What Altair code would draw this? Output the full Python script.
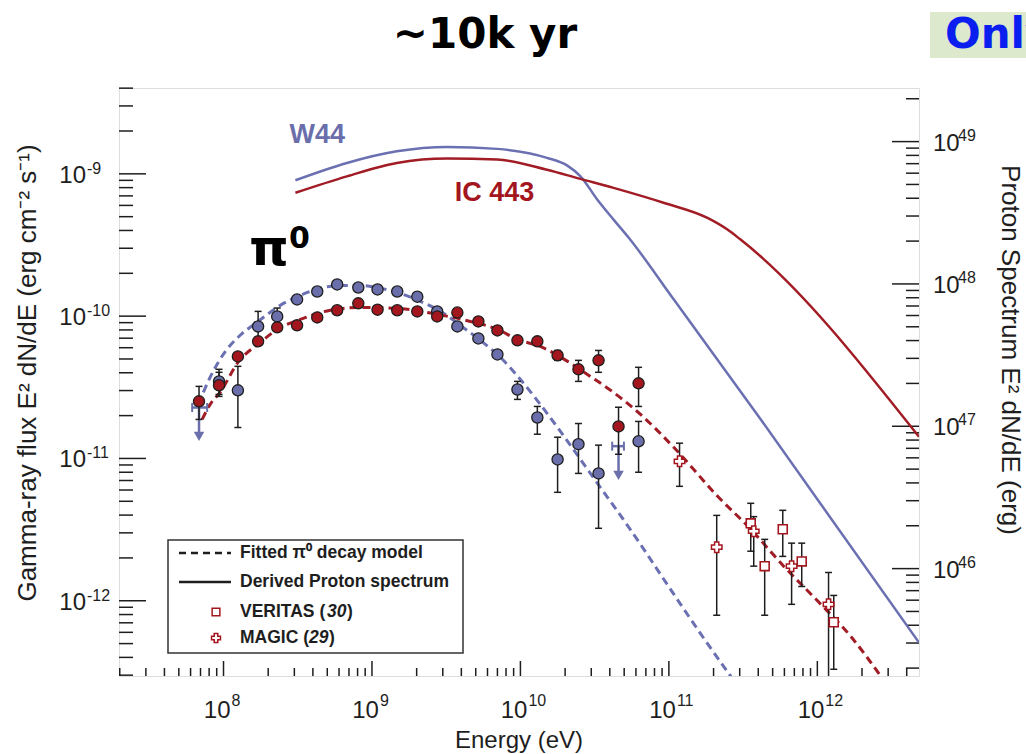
import altair as alt
import pandas as pd

# ---------------- data ----------------
# Fermi-LAT energy bins (eV), shared by both remnants
E_FERMI = [6.84e7, 9.33e7, 1.25e8, 1.71e8, 2.30e8, 3.13e8, 4.28e8, 5.83e8,
           8.09e8, 1.09e9, 1.48e9, 2.02e9, 2.75e9, 3.76e9, 5.21e9, 7.00e9,
           9.55e9, 1.30e10, 1.78e10, 2.46e10, 3.36e10, 4.58e10, 6.25e10]

# W44 gamma-ray flux E^2 dN/dE (erg cm^-2 s^-1); None = upper limit bin
W44_FLUX = [None, 3.48e-11, 3.01e-11, 8.47e-11, 9.96e-11, 1.31e-10, 1.49e-10, 1.67e-10,
            1.59e-10, 1.54e-10, 1.49e-10, 1.37e-10, 1.08e-10, 8.47e-11, 6.97e-11, 5.38e-11,
            3.05e-11, 1.94e-11, 9.84e-12, 1.26e-11, 7.85e-12, None, 1.32e-11]
W44_HI = [None, 4.23e-11, 4.44e-11, 1.08e-10, 1.14e-10, None, None, None,
          None, None, None, None, None, None, None, None,
          3.48e-11, 2.32e-11, 1.41e-11, 1.76e-11, 1.24e-11, None, 1.82e-11]
W44_LO = [None, 2.73e-11, 1.65e-11, 6.85e-11, 8.90e-11, None, None, None,
          None, None, None, None, None, None, None, None,
          2.60e-11, 1.48e-11, 5.78e-12, 7.85e-12, 3.23e-12, None, 8.00e-12]

# W44 upper limits
W44_UL_E = [6.84e7, 4.58e10]
W44_UL_ELO = [6.15e7, 4.15e10]
W44_UL_EHI = [7.76e7, 4.98e10]
W44_UL_F = [2.28e-11, 1.22e-11]
W44_UL_ARROW = [1.43e-11, 7.60e-12]

# IC 443 gamma-ray flux
IC443_FLUX = [2.52e-11, 3.27e-11, 5.21e-11, 6.65e-11, 8.34e-11, 8.62e-11, 9.80e-11, 1.10e-10,
              1.23e-10, 1.11e-10, 1.10e-10, 1.08e-10, 9.96e-11, 1.06e-10, 9.18e-11, 7.94e-11,
              6.76e-11, 6.65e-11, 5.30e-11, 4.23e-11, 4.89e-11, 1.68e-11, 3.37e-11]
IC443_HI = [3.21e-11, 4.03e-11, None, None, None, None, None, None,
            None, None, None, None, None, None, None, None,
            None, None, 5.74e-11, 4.89e-11, 5.74e-11, 2.29e-11, 4.37e-11]
IC443_LO = [1.88e-11, 2.82e-11, None, None, None, None, None, None,
            None, None, None, None, None, None, None, None,
            None, None, 4.89e-11, 3.48e-11, 4.03e-11, 1.07e-11, 2.32e-11]

# TeV measurements of IC 443
MAGIC_E = [1.18e11, 2.10e11, 3.73e11, 6.71e11, 1.19e12]
MAGIC_F = [9.55e-12, 2.38e-12, 3.08e-12, 1.75e-12, 9.44e-13]
MAGIC_HI = [1.28e-11, 3.98e-12, 3.90e-12, 2.54e-12, 1.58e-12]
MAGIC_LO = [6.37e-12, 7.91e-13, 1.75e-12, 9.44e-13, 2.60e-13]

VERITAS_E = [3.56e11, 4.42e11, 5.85e11, 7.85e11, 1.29e12]
VERITAS_F = [3.50e-12, 1.75e-12, 3.18e-12, 1.89e-12, 7.06e-13]
VERITAS_HI = [4.84e-12, 2.70e-12, 4.32e-12, 2.54e-12, 1.09e-12]
VERITAS_LO = [2.23e-12, 7.91e-13, 2.05e-12, 1.26e-12, 3.30e-13]

# fitted pi0-decay models
W44_FIT_E = [7.31e7, 8.13e7, 1.03e8, 1.29e8, 1.71e8, 2.41e8, 3.29e8, 4.49e8, 6.12e8, 8.36e8,
             1.14e9, 1.56e9, 2.12e9, 2.90e9, 3.94e9, 5.38e9, 7.35e9, 1.00e10, 1.36e10, 1.86e10,
             2.54e10, 3.46e10, 4.72e10, 6.44e10, 8.79e10, 1.20e11, 1.63e11, 2.64e11]
W44_FIT_F = [2.91e-11, 3.72e-11, 5.66e-11, 7.31e-11, 9.18e-11, 1.19e-10, 1.40e-10, 1.57e-10, 1.64e-10, 1.64e-10,
             1.57e-10, 1.44e-10, 1.27e-10, 1.08e-10, 8.61e-11, 6.75e-11, 5.12e-11, 3.59e-11, 2.40e-11, 1.55e-11,
             9.84e-12, 6.25e-12, 3.98e-12, 2.49e-12, 1.53e-12, 9.44e-13, 5.90e-13, 2.90e-13]
IC443_FIT_E = [7.18e7, 8.13e7, 9.48e7, 1.25e8, 1.77e8, 2.30e8, 3.29e8, 5.24e8, 8.34e8, 1.55e9,
               2.75e9, 4.60e9, 7.00e9, 9.55e9, 1.36e10, 2.08e10, 2.96e10, 4.24e10, 6.44e10, 1.11e11,
               2.13e11, 3.56e11, 5.93e11, 1.01e12, 1.68e12, 2.68e12]
IC443_FIT_F = [1.88e-11, 2.40e-11, 2.91e-11, 4.73e-11, 6.53e-11, 8.07e-11, 9.48e-11, 1.10e-10, 1.15e-10, 1.13e-10,
               1.03e-10, 9.18e-11, 8.07e-11, 6.86e-11, 6.12e-11, 4.81e-11, 3.77e-11, 2.91e-11, 2.04e-11, 1.16e-11,
               5.42e-12, 3.18e-12, 1.75e-12, 9.91e-13, 5.62e-13, 2.94e-13]

# derived proton spectra E^2 dN/dE (erg), right axis
W44_P_E = [3.05e8, 6.78e8, 1.47e9, 3.21e9, 6.97e9, 1.51e10, 2.07e10, 2.54e10, 3.29e10, 4.24e10,
           5.35e10, 1.08e11, 4.15e11, 4.84e12]
W44_P = [5.35e48, 7.08e48, 8.55e48, 9.18e48, 8.89e48, 7.69e48, 6.78e48, 5.70e48, 3.92e48, 2.83e48,
         2.12e48, 7.77e47, 1.12e47, 3.02e45]
IC443_P_E = [3.05e8, 6.78e8, 1.47e9, 3.21e9, 6.97e9, 1.51e10, 2.54e10, 4.24e10, 9.20e10, 1.82e11,
             2.48e11, 3.04e11, 4.84e12]
IC443_P = [4.37e48, 5.70e48, 7.08e48, 7.60e48, 7.48e48, 6.35e48, 5.47e48, 4.73e48, 3.72e48, 2.91e48,
           2.41e48, 2.05e48, 8.43e46]

# axis ranges and tick labels
X_DOMAIN = [1.977e7, 4.84e12]
YL_DOMAIN = [2.96e-13, 4.01e-9]
YR_DOMAIN = [1.76e45, 2.38e49]
X_MAJOR = [1e8, 1e9, 1e10, 1e11, 1e12]
X_EXP = ["8", "9", "10", "11", "12"]
YL_MAJOR = [1e-9, 1e-10, 1e-11, 1e-12]
YL_EXP = ["-9", "-10", "-11", "-12"]
YR_MAJOR = [1e49, 1e48, 1e47, 1e46]
YR_EXP = ["49", "48", "47", "46"]

# ---------------- styling ----------------
W, H = 800, 588
INK = "#1e1e1e"
BLUE = "#6a6fab"
BLUE_LINE = "#6b70b2"
RED = "#a3161e"
RED_LINE = "#a11c25"
SANS = "Liberation Sans, Arial, Helvetica, sans-serif"
BOLD_SANS = "DejaVu Sans, Verdana, sans-serif"


def minor_ticks(lo, hi):
    out = []
    for d in range(-14, 51):
        for k in range(2, 10):
            v = k * 10.0 ** d
            if lo <= v <= hi:
                out.append(v)
    return out


def xs():
    return alt.Scale(type="log", domain=X_DOMAIN, nice=False)


def yls():
    return alt.Scale(type="log", domain=YL_DOMAIN, nice=False)


def yrs():
    return alt.Scale(type="log", domain=YR_DOMAIN, nice=False)


def X(f):
    return alt.X(f"{f}:Q", scale=xs(), axis=None)


def YL(f):
    return alt.Y(f"{f}:Q", scale=yls(), axis=None)


def YR(f):
    return alt.Y(f"{f}:Q", scale=yrs(), axis=None)


one = pd.DataFrame({"k": [0]})


def note(text, x, y, size, color=INK, weight="normal", align="left",
         baseline="middle", font=SANS, angle=None, style=None):
    kw = dict(text=text, fontSize=size, color=color, fontWeight=weight,
              align=align, baseline=baseline, font=font)
    if angle is not None:
        kw["angle"] = angle
    if style is not None:
        kw["fontStyle"] = style
    return alt.Chart(one).mark_text(**kw).encode(x=alt.value(x), y=alt.value(y))


layers = []

# ---- axis ticks (inward) ----
layers.append(alt.Chart(pd.DataFrame({"v": YL_MAJOR})).mark_rule(color=INK, strokeWidth=1.5)
              .encode(y=YL("v"), x=alt.value(0), x2=alt.value(27)))
layers.append(alt.Chart(pd.DataFrame({"v": minor_ticks(*YL_DOMAIN)})).mark_rule(color=INK, strokeWidth=1.5)
              .encode(y=YL("v"), x=alt.value(0), x2=alt.value(14)))
layers.append(alt.Chart(pd.DataFrame({"v": YR_MAJOR})).mark_rule(color=INK, strokeWidth=1.5)
              .encode(y=YR("v"), x=alt.value(W), x2=alt.value(W - 27)))
layers.append(alt.Chart(pd.DataFrame({"v": minor_ticks(*YR_DOMAIN)})).mark_rule(color=INK, strokeWidth=1.5)
              .encode(y=YR("v"), x=alt.value(W), x2=alt.value(W - 13)))
layers.append(alt.Chart(pd.DataFrame({"v": X_MAJOR})).mark_rule(color=INK, strokeWidth=1.5)
              .encode(x=X("v"), y=alt.value(H), y2=alt.value(H - 15)))
layers.append(alt.Chart(pd.DataFrame({"v": minor_ticks(*X_DOMAIN)})).mark_rule(color=INK, strokeWidth=1.5)
              .encode(x=X("v"), y=alt.value(H), y2=alt.value(H - 8)))

# ---- tick labels: "10" with a raised exponent ----
xl = pd.DataFrame({"v": X_MAJOR, "b": ["10"] * 5, "e": X_EXP})
layers.append(alt.Chart(xl).mark_text(font=SANS, fontSize=24, color=INK, align="right", baseline="middle", dx=7)
              .encode(x=X("v"), y=alt.value(H + 35), text="b:N"))
layers.append(alt.Chart(xl).mark_text(font=SANS, fontSize=16, color=INK, align="left", baseline="middle", dx=8)
              .encode(x=X("v"), y=alt.value(H + 25), text="e:N"))

yll = pd.DataFrame({"v": YL_MAJOR, "b": ["10"] * 4, "e": YL_EXP})
layers.append(alt.Chart(yll).mark_text(font=SANS, fontSize=24, color=INK, align="right", baseline="middle", dy=2)
              .encode(y=YL("v"), x=alt.value(-33), text="b:N"))
layers.append(alt.Chart(yll).mark_text(font=SANS, fontSize=16, color=INK, align="left", baseline="middle", dy=-5)
              .encode(y=YL("v"), x=alt.value(-32), text="e:N"))

yrl = pd.DataFrame({"v": YR_MAJOR, "b": ["10"] * 4, "e": YR_EXP})
layers.append(alt.Chart(yrl).mark_text(font=SANS, fontSize=24, color=INK, align="left", baseline="middle", dy=2)
              .encode(y=YR("v"), x=alt.value(W + 14), text="b:N"))
layers.append(alt.Chart(yrl).mark_text(font=SANS, fontSize=16, color=INK, align="left", baseline="middle", dy=-6)
              .encode(y=YR("v"), x=alt.value(W + 39), text="e:N"))

# ---- axis titles ----
layers.append(note("Energy (eV)", W / 2, H + 65, 24, align="center"))
layers.append(note("Gamma-ray flux E² dN/dE (erg cm⁻² s⁻¹)", -91, 285, 26, align="center", angle=270))
layers.append(note("Proton Spectrum E² dN/dE (erg)", W + 91, 262, 26, align="center", angle=90))

# ---- fitted pi0 decay models (dashed) ----
layers.append(alt.Chart(pd.DataFrame({"e": W44_FIT_E, "f": W44_FIT_F}))
              .mark_line(color=BLUE_LINE, strokeWidth=3, strokeDash=[8, 5], clip=True, interpolate="monotone")
              .encode(x=X("e"), y=YL("f")))
layers.append(alt.Chart(pd.DataFrame({"e": IC443_FIT_E, "f": IC443_FIT_F}))
              .mark_line(color=RED_LINE, strokeWidth=3, strokeDash=[8, 5], clip=True, interpolate="monotone")
              .encode(x=X("e"), y=YL("f")))

# ---- derived proton spectra (solid, right axis) ----
layers.append(alt.Chart(pd.DataFrame({"e": W44_P_E, "p": W44_P}))
              .mark_line(color=BLUE_LINE, strokeWidth=2.5, clip=True, interpolate="monotone")
              .encode(x=X("e"), y=YR("p")))
layers.append(alt.Chart(pd.DataFrame({"e": IC443_P_E, "p": IC443_P}))
              .mark_line(color=RED_LINE, strokeWidth=2.5, clip=True, interpolate="monotone")
              .encode(x=X("e"), y=YR("p")))


def error_bars(e, hi, lo):
    df = pd.DataFrame({"e": e, "hi": hi, "lo": lo}).dropna()
    bar = alt.Chart(df).mark_rule(color=INK, strokeWidth=1.5, clip=True).encode(
        x=X("e"), y=YL("lo"), y2="hi:Q")
    cap_hi = alt.Chart(df).mark_tick(color=INK, orient="horizontal", size=7, thickness=1.5,
                                     opacity=1, clip=True).encode(x=X("e"), y=YL("hi"))
    cap_lo = alt.Chart(df).mark_tick(color=INK, orient="horizontal", size=7, thickness=1.5,
                                     opacity=1, clip=True).encode(x=X("e"), y=YL("lo"))
    return [bar, cap_hi, cap_lo]


# ---- W44 upper limits ----
ul = pd.DataFrame({"e": W44_UL_E, "elo": W44_UL_ELO, "ehi": W44_UL_EHI,
                   "f": W44_UL_F, "a": W44_UL_ARROW})
layers.append(alt.Chart(ul).mark_rule(color=BLUE, strokeWidth=2.5).encode(
    x=X("elo"), x2="ehi:Q", y=YL("f")))
layers.append(alt.Chart(ul).mark_tick(color=BLUE, orient="vertical", size=9, thickness=2, opacity=1)
              .encode(x=X("elo"), y=YL("f")))
layers.append(alt.Chart(ul).mark_tick(color=BLUE, orient="vertical", size=9, thickness=2, opacity=1)
              .encode(x=X("ehi"), y=YL("f")))
layers.append(alt.Chart(ul).mark_rule(color=BLUE, strokeWidth=2.5).encode(
    x=X("e"), y=YL("f"), y2="a:Q"))
layers.append(alt.Chart(ul).mark_point(shape="triangle-down", filled=True, color=BLUE, size=110, opacity=1)
              .encode(x=X("e"), y=YL("a")))

# ---- error bars ----
layers += error_bars(E_FERMI, W44_HI, W44_LO)
layers += error_bars(E_FERMI, IC443_HI, IC443_LO)
layers += error_bars(MAGIC_E, MAGIC_HI, MAGIC_LO)
layers += error_bars(VERITAS_E, VERITAS_HI, VERITAS_LO)

# ---- Fermi points ----
w44 = pd.DataFrame({"e": E_FERMI, "f": W44_FLUX}).dropna()
ic = pd.DataFrame({"e": E_FERMI, "f": IC443_FLUX}).dropna()
layers.append(alt.Chart(w44).mark_point(shape="circle", filled=True, fill=BLUE, stroke=INK, strokeWidth=1.3,
                                        size=125, opacity=1).encode(x=X("e"), y=YL("f")))
layers.append(alt.Chart(ic).mark_point(shape="circle", filled=True, fill=RED, stroke=INK, strokeWidth=1.3,
                                       size=125, opacity=1).encode(x=X("e"), y=YL("f")))

# ---- TeV points ----
layers.append(alt.Chart(pd.DataFrame({"e": VERITAS_E, "f": VERITAS_F}))
              .mark_point(shape="square", filled=True, fill="white", stroke=RED, strokeWidth=1.6,
                          size=80, opacity=1).encode(x=X("e"), y=YL("f")))
layers.append(alt.Chart(pd.DataFrame({"e": MAGIC_E, "f": MAGIC_F}))
              .mark_point(shape="cross", filled=True, fill="white", stroke=RED, strokeWidth=1.5,
                          size=110, opacity=1).encode(x=X("e"), y=YL("f")))

# ---- curve labels ----
layers.append(alt.Chart(pd.DataFrame({"e": [4.28e8], "f": [1.86e-9]}))
              .mark_text(text="W44", font=SANS, fontSize=27, fontWeight="bold", color=BLUE,
                         align="center", baseline="middle").encode(x=X("e"), y=YL("f")))
layers.append(alt.Chart(pd.DataFrame({"e": [6.68e9], "f": [7.39e-10]}))
              .mark_text(text="IC 443", font=SANS, fontSize=27, fontWeight="bold", color=RED,
                         align="center", baseline="middle").encode(x=X("e"), y=YL("f")))

# ---- legend ----
layers.append(alt.Chart(one).mark_rect(fill="white", stroke="#333333", strokeWidth=1.5)
              .encode(x=alt.value(49), x2=alt.value(344), y=alt.value(452), y2=alt.value(565)))
layers.append(alt.Chart(one).mark_rule(color=INK, strokeWidth=2.5, strokeDash=[7, 5])
              .encode(x=alt.value(60), x2=alt.value(112), y=alt.value(465)))
layers.append(alt.Chart(one).mark_rule(color=INK, strokeWidth=2.5)
              .encode(x=alt.value(60), x2=alt.value(112), y=alt.value(494)))
layers.append(alt.Chart(one).mark_point(shape="square", filled=True, fill="white", stroke=RED,
                                        strokeWidth=1.5, size=60, opacity=1)
              .encode(x=alt.value(97), y=alt.value(524)))
layers.append(alt.Chart(one).mark_point(shape="cross", filled=True, fill="white", stroke=RED,
                                        strokeWidth=1.5, size=80, opacity=1)
              .encode(x=alt.value(97), y=alt.value(550)))
layers.append(note("Fitted π⁰ decay model", 121, 465, 17.5, weight="bold"))
layers.append(note("Derived Proton spectrum", 121, 494, 17.5, weight="bold"))
layers.append(note("VERITAS (", 121, 524, 17.5, weight="bold"))
layers.append(note("30", 208, 524, 17.5, weight="bold", style="italic"))
layers.append(note(")", 228, 524, 17.5, weight="bold"))
layers.append(note("MAGIC (", 121, 550, 17.5, weight="bold"))
layers.append(note("29", 190, 550, 17.5, weight="bold", style="italic"))
layers.append(note(")", 210, 550, 17.5, weight="bold"))

# ---- slide annotations ----
layers.append(note("π", 150, 177, 50, color="black", weight="bold", align="center",
                   baseline="alphabetic", font=BOLD_SANS))
layers.append(note("0", 170, 160, 30, color="black", weight="bold", baseline="alphabetic", font=BOLD_SANS))
layers.append(note("~10k yr", 366, -53, 42, color="black", weight="bold", align="center", font=BOLD_SANS))
layers.append(alt.Chart(one).mark_rect(fill="#dde9cc")
              .encode(x=alt.value(811), x2=alt.value(915), y=alt.value(-76), y2=alt.value(-30)))
layers.append(note("Only", 826, -53, 42, color="#0a1ef0", weight="bold", font=BOLD_SANS))

chart = (
    alt.layer(*layers)
    .resolve_scale(x="independent", y="independent")
    .properties(width=W, height=H, autosize=alt.AutoSizeParams(type="none"),
                padding={"left": 119, "top": 88, "right": 107, "bottom": 78})
    .configure_view(stroke=INK, strokeWidth=2)
    .configure(background="white")
)

chart.save("out.html", embed_options={"renderer": "svg", "actions": False})
